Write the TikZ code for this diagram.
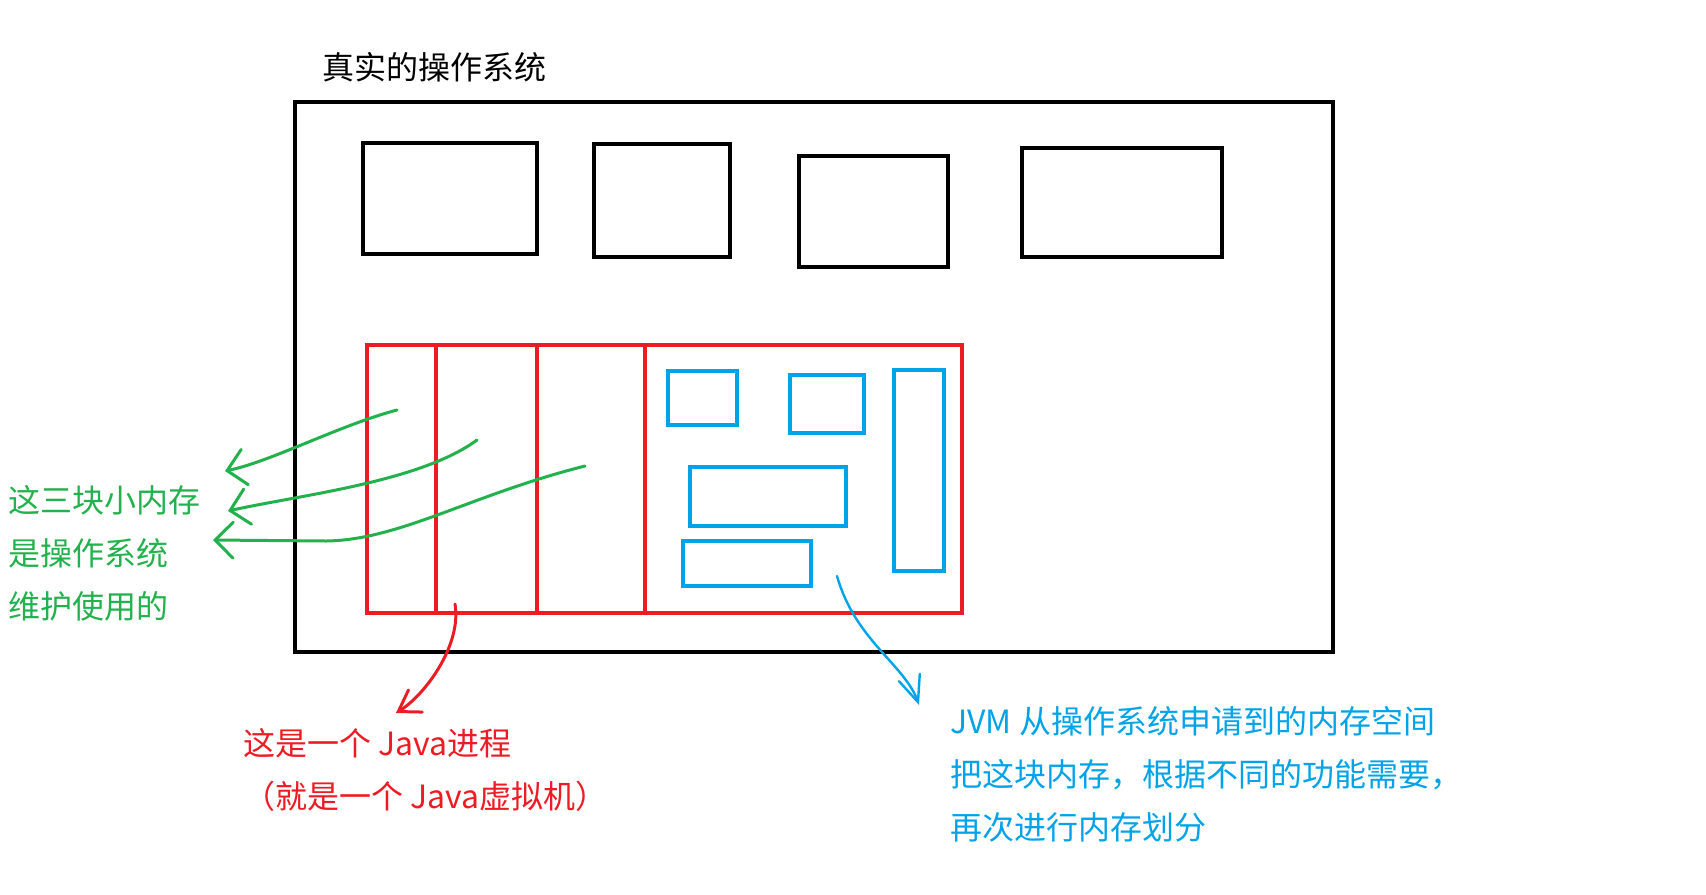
\documentclass[tikz,border=0pt]{standalone}
\usepackage{fontspec}
\setmainfont{Noto Sans CJK SC}
\usepackage{tikz}
\usetikzlibrary{arrows.meta,positioning,calc}
\definecolor{paintred}{RGB}{237,28,36}
\definecolor{paintblue}{RGB}{0,162,232}
\definecolor{paintgreen}{RGB}{34,177,76}

\begin{document}
\begin{tikzpicture}[
  x=0.5pt, y=-0.5pt,
  osbox/.style={rectangle, draw=black, line width=2pt, inner sep=0pt},
  jvmbox/.style={rectangle, draw=paintred, line width=2pt, inner sep=0pt},
  area/.style={rectangle, draw=paintblue, line width=2pt, inner sep=0pt},
  jvmline/.style={draw=paintred, line width=2pt},
  garrow/.style={draw=paintgreen, line width=1.5pt, line cap=round, -{Straight Barb[length=9pt, width=18pt, line cap=round]}},
  rarrow/.style={draw=paintred, line width=1.5pt, line cap=round, -{Straight Barb[length=10pt, width=13pt, line cap=round]}},
  barrow/.style={draw=paintblue, line width=1.2pt, line cap=round, -{Straight Barb[length=13pt, width=11pt, line cap=round]}},
  note/.style={font=\fontsize{16pt}{26.5pt}\selectfont, inner sep=0pt, align=left, anchor=west}
]
\useasboundingbox (0,0) rectangle (1706,894);

\node[note, text=black] (title) at (322,67) {真实的操作系统};
\node[osbox, minimum width=519pt, minimum height=275pt] (os) at (814,377) {};

\node[osbox, minimum width=87pt, minimum height=55.5pt] (p1) at (450,198.5) {};
\node[osbox, minimum width=68pt, minimum height=56.5pt] (p2) at (662,200.5) {};
\node[osbox, minimum width=74.5pt, minimum height=55.5pt] (p3) at (873.5,211.5) {};
\node[osbox, minimum width=100pt, minimum height=54.5pt] (p4) at (1122,202.5) {};

\node[jvmbox, minimum width=297.5pt, minimum height=134pt] (jvm) at (664.5,479) {};
\foreach \sx in {436,537,645} {
  \coordinate (s) at (\sx,0);
  \draw[jvmline] (jvm.north -| s) -- (jvm.south -| s);
}

\node[area, minimum width=34.5pt, minimum height=27pt] (a1) at (702.5,398) {};
\node[area, minimum width=37pt, minimum height=29pt] (a2) at (827,404) {};
\node[area, minimum width=25pt, minimum height=100.5pt] (a3) at (919,470.5) {};
\node[area, minimum width=78pt, minimum height=29.5pt] (a4) at (768,496.5) {};
\node[area, minimum width=64pt, minimum height=22.5pt] (a5) at (747,563.5) {};

\node[note, text=paintgreen] (osnote) at (8,553) {这三块小内存\\是操作系统\\维护使用的};
\node[note, text=paintred] (jvmnote) at (243,770) {这是一个 Java进程\\（就是一个 Java虚拟机）};
\node[note, text=paintblue] (areanote) at (950,774) {JVM 从操作系统申请到的内存空间\\把这块内存，根据不同的功能需要，\\再次进行内存划分};

\coordinate (g1s) at (397,410);
\coordinate (g1e) at (225,471);
\coordinate (g2s) at (477,440);
\coordinate (g2e) at (228,511);
\coordinate (g3s) at (585,466);
\coordinate (g3e) at (213,540);
\draw[garrow] (g1s) .. controls (340,425) and (270,462) .. (g1e);
\draw[garrow] (g2s) .. controls (420,482) and (300,495) .. (g2e);
\draw[garrow] (g3s) .. controls (470,495) and (400,540) .. (326,541) -- (g3e);

\coordinate (rs) at (455,604);
\coordinate (re) at (396,713);
\draw[rarrow] (rs) .. controls (462,645) and (425,695) .. (re);

\coordinate (bs) at (837,576);
\coordinate (be) at (919,705);
\draw[barrow] (bs) .. controls (855,640) and (905,665) .. (be);

\end{tikzpicture}
\end{document}
